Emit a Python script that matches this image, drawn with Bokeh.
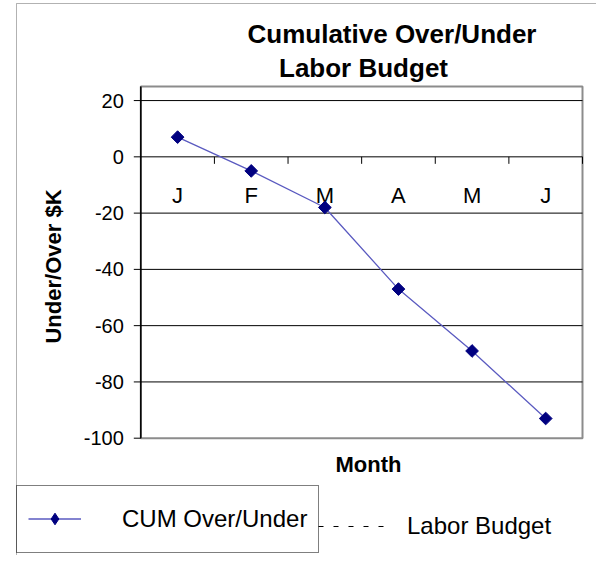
import numpy as np
from bokeh.plotting import figure
from bokeh.models import Range1d, Label, Legend, LegendItem, BoxAnnotation
from bokeh.core.properties import value
from bokeh.embed import file_html
from bokeh.resources import INLINE

# ---- data ----
months = ["J", "F", "M", "A", "M", "J"]
cum_over_under = [7, -5, -18, -47, -69, -93]
labor_budget = [0, 0, 0, 0, 0, 0]
y_ticks = [-100, -80, -60, -40, -20, 0, 20]
y_top = 25
title_lines = ["Cumulative Over/Under", "Labor Budget"]
y_title = "Under/Over $K"
x_title = "Month"
series_names = ["CUM Over/Under", "Labor Budget"]

# ---- layout (pixels) ----
FONT = "Liberation Sans"
W, H = 596, 555
PA_L, PA_R, PA_T, PA_B = 140.3, 582.0, 86.0, 437.7   # plot-area edges on the canvas

n = len(months)
xs = list(range(1, n + 1))
x_lo, x_hi = 0.5, n + 0.5
y_lo, y_hi = y_ticks[0], y_top
kx = (PA_R - PA_L) / (x_hi - x_lo)
ky = (PA_B - PA_T) / (y_hi - y_lo)
x_range = Range1d(x_lo - PA_L / kx, x_hi + (W - PA_R) / kx)
y_range = Range1d(y_lo - (H - PA_B) / ky, y_hi + PA_T / ky)

p = figure(width=W, height=H, output_backend="svg", toolbar_location=None,
           x_range=x_range, y_range=y_range,
           x_axis_location=None, y_axis_location=None,
           min_border=0, min_border_left=0, min_border_right=0,
           min_border_top=0, min_border_bottom=0)
p.grid.visible = False
p.outline_line_color = None
p.background_fill_color = "white"
p.border_fill_color = "white"


def sx(px):
    return px


def sy(py):
    return H - py


# plot-area border (grey)
p.quad(left=x_lo, right=x_hi, bottom=y_lo, top=y_hi, fill_color=None,
       line_color="#8c8c8c", line_width=2)

# labor budget (dashed) lies exactly on the zero line, hidden by it as in the original
budget_line = p.line(xs, labor_budget, line_color="black", line_dash="5 10", line_width=1)
budget_line.visible = False

# horizontal gridlines
grid_vals = [t for t in y_ticks if t > y_lo]
p.segment(x0=x_lo, x1=x_hi, y0=grid_vals, y1=grid_vals, line_color="black", line_width=1)

# value axis (left)
p.segment(x0=x_lo, x1=x_lo, y0=y_lo, y1=y_hi, line_color="black", line_width=1.5)
p.ray(x=x_lo, y=y_ticks, length=7, length_units="screen", angle=np.pi,
      line_color="black", line_width=1)
p.text(x=x_lo, y=y_ticks, text=[str(t) for t in y_ticks], x_offset=-17,
       text_font=value(FONT), text_font_size="20px", text_align="right",
       text_baseline="middle", text_color="black")

# category axis crossing at zero
bounds = [i + 0.5 for i in xs]
p.ray(x=bounds, y=0, length=7, length_units="screen", angle=-np.pi / 2,
      line_color="black", line_width=1)
p.text(x=xs, y=0, text=months, y_offset=39, text_font=value(FONT),
       text_font_size="22px", text_align="center", text_baseline="middle",
       text_color="black")

# series
cum_line = p.line(xs, cum_over_under, line_color="#5a5ac0", line_width=1.3)
cum_pts = p.scatter(xs, cum_over_under, marker="square", size=9, angle=np.pi / 4,
                    fill_color="#000080", line_color="#000080")
# legend key marker (legend keys ignore marker rotation)
cum_key = p.scatter(xs, cum_over_under, marker="diamond", fill_color="#000080",
                    line_color="#000080")
cum_key.visible = False


def add_label(text, px, py, size, bold=True, angle=0.0):
    p.add_layout(Label(x=sx(px), y=sy(py), x_units="screen", y_units="screen", text=text,
                       angle=angle, text_font=FONT,
                       text_font_style="bold" if bold else "normal",
                       text_font_size=size, text_align="center",
                       text_baseline="middle", text_color="black"))


add_label(title_lines[0], 391.5, 33, "26px")
add_label(title_lines[1], 363, 67.5, "26px")
add_label(y_title, 53, 266, "22px", angle=np.pi / 2)
add_label(x_title, 368, 464, "22px")

# outer chart border
p.add_layout(BoxAnnotation(left=sx(16), right=W + 20, top=sy(3), bottom=-20,
                           left_units="screen", right_units="screen",
                           top_units="screen", bottom_units="screen",
                           fill_alpha=0, line_color="black", line_width=1))

# legends
leg1 = Legend(items=[LegendItem(label=series_names[0], renderers=[cum_line, cum_key])],
              location=(sx(16), sy(552.5)), orientation="vertical", padding=11, margin=0,
              spacing=0, glyph_width=53, glyph_height=29, label_height=44,
              label_standoff=41, label_text_font=FONT, label_text_font_size="24px",
              label_text_color="black",
              border_line_color="black", border_line_width=1,
              background_fill_alpha=0)
leg2 = Legend(items=[LegendItem(label=series_names[1], renderers=[budget_line])],
              location=(sx(318), sy(548)), orientation="vertical", padding=0, margin=0,
              spacing=0, glyph_width=67, glyph_height=44, label_height=44,
              label_standoff=22, label_text_font=FONT, label_text_font_size="24px",
              label_text_color="black",
              border_line_color=None, background_fill_alpha=0)
p.add_layout(leg1)
p.add_layout(leg2)

open("out.html", "w").write(file_html(p, INLINE))
